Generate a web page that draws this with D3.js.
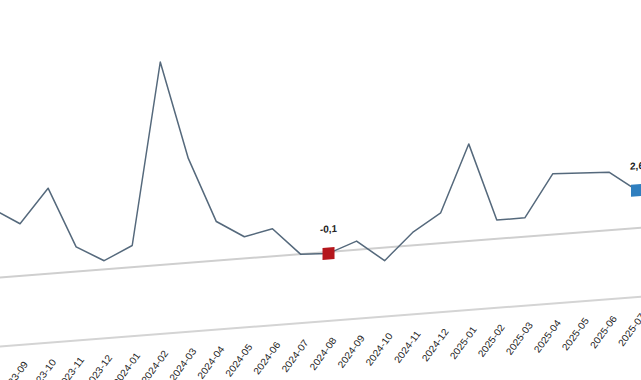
<!DOCTYPE html>
<html>
<head>
<meta charset="utf-8">
<script src="https://cdn.jsdelivr.net/npm/d3@7"></script>
<style>
  html, body { margin: 0; padding: 0; background: #fff; }
  svg { display: block; }
</style>
</head>
<body>
<div id="chart"></div>
<script>
const months = ['2023-08','2023-09','2023-10','2023-11','2023-12','2024-01','2024-02','2024-03',
  '2024-04','2024-05','2024-06','2024-07','2024-08','2024-09','2024-10','2024-11','2024-12',
  '2025-01','2025-02','2025-03','2025-04','2025-05','2025-06','2025-07'];
const values = [4.8, 3.6, 5.9, 1.7, 0.6, 1.5, 14.0, 7.2, 2.7, 1.5, 1.9, 0.0, -0.1,
  0.6, -0.9, 0.9, 2.1, 6.7, 1.3, 1.3, 4.2, 4.1, 4.0, 2.6];
const highlights = [
  { month: '2024-08', label: '-0,1', color: '#b5161c' },
  { month: '2025-07', label: '2,6', color: '#2f7fbf' }
];

const totalWidth = 641, totalHeight = 380;
const skew = -0.0777;          // the whole chart is tilted
const zeroY = 277.5, unit = 14.5, baseY = 346.5;

const data = months.map((m, i) => ({ month: m, value: values[i] }));

const svg = d3.select('#chart').append('svg')
  .attr('width', totalWidth)
  .attr('height', totalHeight);

const plot = svg.append('g')
  .attr('transform', 'matrix(1,' + skew + ',0,1,0,0)');

//------- scales -------
const xScale = d3.scalePoint()
  .domain(months)
  .range([-8, 637]);

const yScale = d3.scaleLinear()
  .domain([0, 14])
  .range([zeroY, zeroY - 14 * unit]);

//------- zero line and base line -------
plot.append('line')
  .attr('x1', -20).attr('x2', 700)
  .attr('y1', yScale(0)).attr('y2', yScale(0))
  .style('stroke', '#cfcfcf')
  .style('stroke-width', 2);

const xAxis = d3.axisBottom(xScale).tickSize(0).tickFormat('');
const axisView = plot.append('g')
  .attr('transform', 'translate(0,' + baseY + ')')
  .call(xAxis);
axisView.select('.domain').remove();
axisView.append('line')
  .attr('x1', -20).attr('x2', 700)
  .style('stroke', '#d4d4d4')
  .style('stroke-width', 2);

axisView.selectAll('.tick')
  .append('text')
  .attr('transform', 'translate(8,20) rotate(-52)')
  .attr('text-anchor', 'end')
  .style('font-family', '"Liberation Sans", Arial, sans-serif')
  .style('font-size', '10px')
  .style('fill', '#222')
  .text(d => d);

//------- line -------
const line = d3.line()
  .x(d => xScale(d.month))
  .y(d => yScale(d.value));

plot.append('path')
  .datum(data)
  .attr('d', line)
  .style('fill', 'none')
  .style('stroke', '#55697c')
  .style('stroke-width', 1.5)
  .style('stroke-linejoin', 'round');

//------- highlighted points -------
const marks = plot.append('g')
  .selectAll('g')
  .data(highlights)
  .enter()
  .append('g')
  .attr('transform', d => {
    const v = values[months.indexOf(d.month)];
    return 'translate(' + xScale(d.month) + ',' + yScale(v) + ')';
  });

marks.append('rect')
  .attr('x', -6).attr('y', -6)
  .attr('width', 12).attr('height', 12)
  .style('fill', d => d.color);

marks.append('text')
  .attr('y', -21)
  .attr('text-anchor', 'middle')
  .style('font-family', '"Liberation Sans", Arial, sans-serif')
  .style('font-weight', 'bold')
  .style('font-size', '10px')
  .style('fill', '#222')
  .text(d => d.label);
</script>
</body>
</html>
